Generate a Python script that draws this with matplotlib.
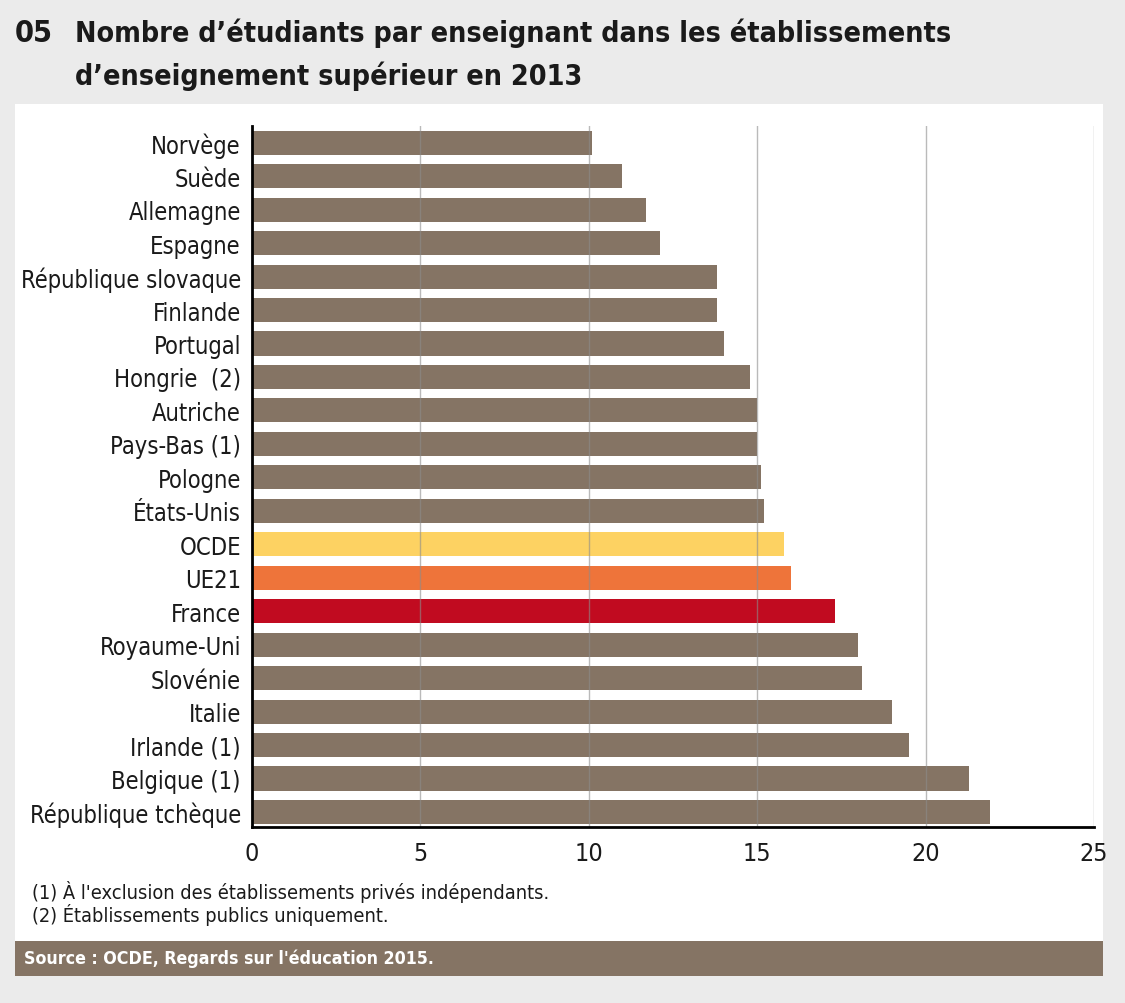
import matplotlib.pyplot as plt
from matplotlib.patches import Rectangle

# data
pays = ['Norvège', 'Suède', 'Allemagne', 'Espagne', 'République slovaque',
        'Finlande', 'Portugal', 'Hongrie  (2)', 'Autriche', 'Pays-Bas (1)',
        'Pologne', 'États-Unis', 'OCDE', 'UE21', 'France', 'Royaume-Uni',
        'Slovénie', 'Italie', 'Irlande (1)', 'Belgique (1)', 'République tchèque']
valeurs = [10.1, 11.0, 11.7, 12.1, 13.8, 13.8, 14.0, 14.8, 15.0, 15.0,
           15.1, 15.2, 15.8, 16.0, 17.3, 18.0, 18.1, 19.0, 19.5, 21.3, 21.9]
ticks_x = [0, 5, 10, 15, 20, 25]

brun = '#857464'
couleurs_speciales = {'OCDE': '#fdd262', 'UE21': '#ee743a', 'France': '#c10b20'}
couleurs = [couleurs_speciales.get(p, brun) for p in pays]

plt.rcParams['font.family'] = ['DejaVu Sans']
plt.rcParams['font.stretch'] = 'condensed'

fig = plt.figure(figsize=(11.25, 10.04), dpi=100)
fig.patch.set_facecolor('#ebebeb')

W, H = 1125.0, 1004.0

# white panel + source band
fig.patches.append(Rectangle((15 / W, 1 - 942 / H), (1103 - 15) / W, (942 - 105) / H,
                             transform=fig.transFigure, facecolor='white',
                             edgecolor='none', zorder=-1))
fig.patches.append(Rectangle((15 / W, 1 - 977 / H), (1103 - 15) / W, (977 - 942) / H,
                             transform=fig.transFigure, facecolor=brun,
                             edgecolor='none', zorder=-1))

ax = fig.add_axes([252 / W, 1 - 828 / H, (1094 - 252) / W, (828 - 127) / H])
ax.set_facecolor('none')
ax.set_zorder(2)

y = list(range(len(pays)))
ax.barh(y, valeurs, height=0.72, color=couleurs, zorder=2)

ax.set_xlim(0, 25)
ax.set_ylim(20.45, -0.5)
ax.set_xticks(ticks_x)
ax.set_xticklabels([str(t) for t in ticks_x], fontsize=18)
ax.set_yticks(y)
ax.set_yticklabels(pays, fontsize=17)
ax.tick_params(axis='both', length=0, colors='#1a1a1a')
ax.tick_params(axis='x', pad=10)
ax.tick_params(axis='y', pad=8)

for t in ticks_x[1:]:
    ax.axvline(t, color='#8c8c8c', linewidth=1, alpha=0.6, zorder=3)

for s in ['top', 'right']:
    ax.spines[s].set_visible(False)
ax.spines['left'].set_linewidth(2)
ax.spines['bottom'].set_linewidth(2)
ax.spines['left'].set_zorder(4)
ax.spines['bottom'].set_zorder(4)

# title
fig.text(15 / W, 1 - 42 / H, '05', fontsize=22, fontweight='bold',
         color='#1a1a1a', va='baseline')
fig.text(75 / W, 1 - 42 / H,
         'Nombre d\u2019étudiants par enseignant dans les établissements',
         fontsize=20.5, fontweight='bold', color='#1a1a1a', va='baseline')
fig.text(75 / W, 1 - 85 / H, 'd\u2019enseignement supérieur en 2013',
         fontsize=20.5, fontweight='bold', color='#1a1a1a', va='baseline')

# footnotes
fig.text(32 / W, 1 - 892 / H, "(1) À l'exclusion des établissements privés indépendants.",
         fontsize=14.3, color='#1a1a1a', va='center')
fig.text(32 / W, 1 - 915 / H, "(2) Établissements publics uniquement.",
         fontsize=14.3, color='#1a1a1a', va='center')

fig.text(24 / W, 1 - 959 / H, "Source : OCDE, Regards sur l'éducation 2015.",
         fontsize=12.8, fontweight='bold', color='white', va='center')

fig.savefig('out.png', dpi=100, facecolor=fig.get_facecolor())
